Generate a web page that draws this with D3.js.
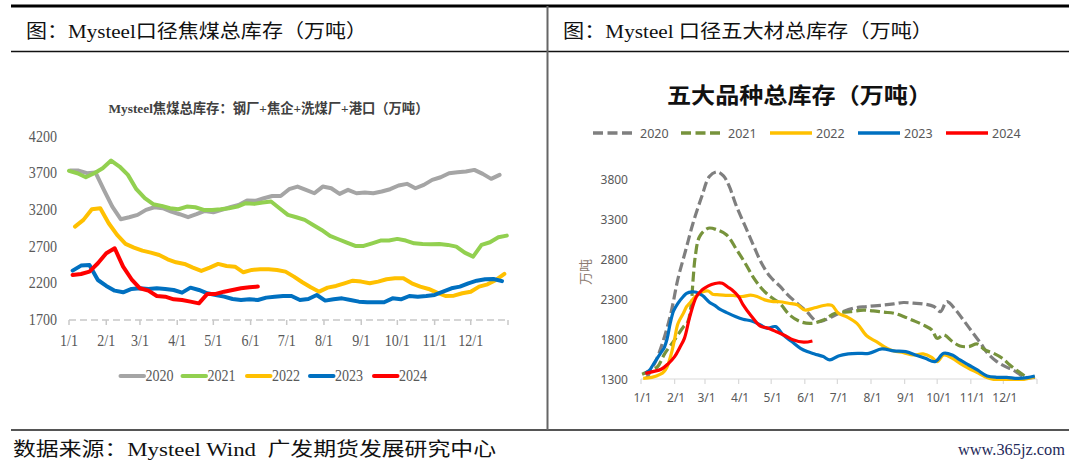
<!DOCTYPE html>
<html><head><meta charset="utf-8">
<script src="https://cdn.jsdelivr.net/npm/d3@7/dist/d3.min.js"></script>
<style>body{margin:0;background:#fff}svg{display:block}</style>
</head><body>
<svg id="c" width="1080" height="469"></svg>
<script>
// ---------- data ----------
const monthLabels = ["1/1","2/1","3/1","4/1","5/1","6/1","7/1","8/1","9/1","10/1","11/1","12/1"];
const monthStartDays = [0,31,59,90,120,151,181,212,243,273,304,334];
const years = ["2020","2021","2022","2023","2024"];

// left chart: coking coal total inventory (weekly values), first week day-of-year
const leftYTicks = [1700,2200,2700,3200,3700,4200];
const leftStartDay = [1,0,5,3,3];
const coal2020 = [3736,3736,3700,3710,3473,3245,3073,3100,3132,3200,3236,3223,3177,3141,3100,3141,3186,3168,3200,3236,3268,3327,3323,3359,3390,3390,3482,3518,3473,3427,3518,3495,3418,3473,3427,3436,3427,3450,3482,3532,3555,3495,3541,3609,3645,3700,3714,3723,3745,3691,3623,3677];
const coal2021 = [3732,3700,3645,3700,3768,3873,3791,3677,3482,3359,3277,3255,3223,3209,3245,3236,3200,3200,3209,3223,3245,3291,3282,3300,3314,3223,3132,3100,3064,2995,2927,2845,2800,2755,2709,2709,2745,2782,2782,2805,2782,2745,2736,2732,2736,2723,2700,2618,2564,2723,2759,2827,2850];
const coal2022 = [2973,3064,3209,3223,3018,2859,2736,2686,2645,2618,2586,2527,2486,2464,2414,2368,2414,2464,2436,2427,2350,2382,2391,2391,2382,2359,2291,2214,2145,2086,2141,2164,2200,2236,2223,2200,2223,2255,2268,2268,2200,2155,2123,2073,2027,2032,2064,2086,2155,2186,2245,2327];
const coal2023 = [2373,2441,2450,2245,2164,2100,2077,2123,2132,2123,2132,2123,2109,2073,2141,2109,2064,2041,2018,1986,1973,1982,1973,2005,2018,2027,2027,1973,1986,2041,1964,1982,1995,1973,1950,1941,1941,1941,1995,1982,2027,2018,2027,2041,2086,2132,2155,2200,2236,2255,2259,2230];
const coal2024 = [2314,2327,2359,2473,2609,2677,2427,2255,2132,2100,2027,2018,1982,1973,1950,1927,2055,2055,2086,2109,2132,2145,2155];
const leftSeries = [coal2020,coal2021,coal2022,coal2023,coal2024];

// right chart: five major steel products total inventory, [day-of-year, value]
const rightYTicks = [1300,1800,2300,2800,3300,3800];
const steel2020 = [[5,1308],[14,1537],[21,1800],[28,2150],[34,2550],[41,2900],[48,3250],[56,3580],[63,3830],[70,3890],[76,3840],[81,3720],[88,3460],[96,3210],[104,2960],[111,2750],[119,2580],[128,2460],[134,2370],[141,2280],[147,2210],[153,2140],[162,2020],[170,2040],[182,2120],[196,2185],[208,2205],[224,2225],[233,2239],[242,2256],[251,2248],[260,2239],[270,2206],[276,2143],[282,2268],[290,2164],[297,2039],[305,1893],[313,1747],[320,1613],[328,1517],[336,1454],[343,1413],[350,1350],[356,1317],[363,1321]];
const steel2021 = [[1,1360],[8,1400],[15,1450],[22,1620],[31,1790],[39,1950],[43,2010],[46,2200],[48,2540],[50,2830],[54,3080],[62,3185],[70,3165],[79,3100],[88,2920],[96,2748],[104,2561],[111,2435],[119,2331],[128,2246],[137,2100],[147,2016],[157,1996],[168,2037],[179,2121],[193,2141],[205,2162],[214,2151],[224,2135],[233,2122],[242,2081],[251,2031],[260,1976],[268,1914],[273,1809],[279,1851],[287,1768],[294,1713],[302,1705],[310,1738],[317,1663],[325,1621],[333,1559],[340,1475],[348,1392],[356,1317]];
const steel2022 = [[2,1308],[10,1320],[18,1360],[21,1390],[24,1450],[28,1620],[31,1800],[34,1990],[39,2120],[42,2204],[45,2250],[50,2329],[57,2391],[62,2400],[66,2360],[70,2355],[78,2345],[85,2344],[93,2331],[101,2348],[107,2331],[114,2289],[122,2268],[128,2266],[136,2247],[144,2227],[151,2162],[160,2190],[171,2225],[176,2220],[182,2121],[190,2075],[199,1996],[208,1840],[217,1766],[227,1683],[233,1651],[242,1630],[251,1600],[260,1613],[268,1571],[273,1517],[279,1600],[287,1559],[294,1496],[302,1434],[310,1379],[317,1329],[325,1296],[334,1296],[343,1296],[353,1296],[363,1329]];
const steel2023 = [[4,1371],[8,1412],[11,1475],[19,1642],[21,1680],[24,1800],[27,2000],[30,2150],[34,2246],[39,2331],[42,2371],[47,2390],[51,2385],[57,2340],[63,2260],[68,2220],[73,2170],[79,2130],[87,2081],[94,2047],[102,2026],[110,1976],[116,1934],[124,1955],[131,1851],[139,1768],[147,1684],[154,1640],[160,1613],[168,1580],[174,1538],[182,1588],[191,1613],[200,1621],[210,1621],[222,1676],[233,1651],[244,1642],[253,1600],[262,1559],[271,1517],[279,1621],[287,1600],[294,1538],[302,1475],[310,1413],[319,1338],[328,1321],[337,1321],[347,1308],[356,1317],[363,1338]];
const steel2024 = [[4,1371],[11,1392],[19,1425],[25,1490],[31,1580],[36,1700],[40,1808],[45,2080],[51,2329],[56,2410],[59,2440],[65,2480],[71,2500],[75,2496],[80,2450],[84,2412],[90,2329],[94,2230],[102,2081],[110,1960],[116,1940],[125,1890],[133,1840],[140,1790],[150,1760],[158,1775]];
const rightSeries = [steel2020,steel2021,steel2022,steel2023,steel2024];

// ---------- styles ----------
const leftColors = ["#a5a5a5","#92d050","#ffc000","#0070c0","#ff0000"];
const rightColors = ["#7f7f7f","#77933c","#ffc000","#0070c0","#ff0000"];
const rightDash = ["10,4","10,4",null,null,null];
const SERIF = "'Liberation Serif','Noto Sans CJK SC',serif";
const CJK = "'Noto Sans CJK SC','Liberation Serif',serif";
const SANS = "'Noto Sans','Noto Sans CJK SC',sans-serif";

const svg = d3.select("#c");
svg.append("rect").attr("width",1080).attr("height",469).attr("fill","#fff");

// frame lines
svg.append("line").attr("x1",11).attr("x2",1069).attr("y1",6).attr("y2",6).attr("stroke","#000").attr("stroke-width",3);
svg.append("line").attr("x1",11).attr("x2",1069).attr("y1",51.5).attr("y2",51.5).attr("stroke","#111").attr("stroke-width",1.5);
svg.append("line").attr("x1",11).attr("x2",1069).attr("y1",430).attr("y2",430).attr("stroke","#555").attr("stroke-width",2);
svg.append("line").attr("x1",547.5).attr("x2",547.5).attr("y1",6).attr("y2",430).attr("stroke","#666").attr("stroke-width",2);

// headers
function fitText(x,y,txt,len,size,family,opts={}){
  const t = svg.append("text").attr("x",x).attr("y",y).text(txt)
    .attr("font-family",family).attr("font-size",size).attr("fill",opts.fill||"#000")
    .attr("textLength",len).attr("lengthAdjust","spacingAndGlyphs");
  if(opts.weight) t.attr("font-weight",opts.weight);
  return t;
}
fitText(26,38,"图：Mysteel口径焦煤总库存（万吨）",341,19,SERIF,{fill:"#111"});
fitText(563,38,"图：Mysteel 口径五大材总库存（万吨）",370,19,SERIF,{fill:"#111"});
fitText(13,456,"数据来源：Mysteel Wind\u00a0\u00a0广发期货发展研究中心",483,19,SERIF,{fill:"#111"});
fitText(958,455,"www.365jz.com",107,16,SERIF,{fill:"#1f2a5a"});

// ---------- left chart ----------
const lx = d3.scaleLinear().domain([0,365]).range([69,508]);
const ly = d3.scaleLinear().domain([1700,4200]).range([320,136.5]);
const lg = svg.append("g");
fitText(108.5,113,"Mysteel焦煤总库存：钢厂+焦企+洗煤厂+港口（万吨）",320,13.5,SERIF,{fill:"#404040",weight:"bold"});

function condText(g,x,y,txt,size,anchor){
  return g.append("text").attr("transform",`translate(${x},${y}) scale(0.88,1)`)
    .attr("text-anchor",anchor).attr("font-family",SERIF).attr("font-size",size)
    .attr("fill","#595959").text(txt);
}
// axis
lg.append("line").attr("x1",lx(0)).attr("x2",lx(365)).attr("y1",ly(1700)).attr("y2",ly(1700))
  .attr("stroke","#c8c8c8").attr("stroke-width",1.5).attr("stroke-dasharray","7,4");
monthStartDays.concat([365]).forEach(d=>{
  lg.append("line").attr("x1",lx(d)).attr("x2",lx(d)).attr("y1",ly(1700)).attr("y2",ly(1700)+5)
    .attr("stroke","#c8c8c8").attr("stroke-width",1.5);
});
monthStartDays.forEach((d,i)=>condText(lg,lx(d),346,monthLabels[i],16,"middle"));
leftYTicks.forEach(v=>condText(lg,57,ly(v)+5,String(v),16,"end"));

const lline = d3.line().x(d=>lx(d[0])).y(d=>ly(d[1]));
leftSeries.forEach((vals,i)=>{
  const pts = vals.map((v,k)=>[leftStartDay[i]+7*k, v]);
  lg.append("path").attr("d",lline(pts)).attr("fill","none").attr("stroke",leftColors[i])
    .attr("stroke-width",4).attr("stroke-linejoin","round").attr("stroke-linecap","round");
});
// left legend
const leftLegX = [120.5,182.5,247,310,374];
years.forEach((y,i)=>{
  lg.append("line").attr("x1",leftLegX[i]).attr("x2",leftLegX[i]+23.5).attr("y1",376).attr("y2",376)
    .attr("stroke",leftColors[i]).attr("stroke-width",4).attr("stroke-linecap","round");
  condText(lg,leftLegX[i]+25,381,y,16,"start");
});

// ---------- right chart ----------
const rx = d3.scaleLinear().domain([0,365]).range([641,1037]);
const ry = d3.scaleLinear().domain([1300,3800]).range([379,179]);
const rg = svg.append("g");
fitText(667,103,"五大品种总库存（万吨）",265,22,CJK,{fill:"#111",weight:"bold"});

rg.append("line").attr("x1",rx(0)).attr("x2",rx(365)).attr("y1",ry(1300)).attr("y2",ry(1300))
  .attr("stroke","#d9d9d9").attr("stroke-width",1.2);
monthStartDays.concat([365]).forEach(d=>{
  rg.append("line").attr("x1",rx(d)).attr("x2",rx(d)).attr("y1",ry(1300)).attr("y2",ry(1300)+5)
    .attr("stroke","#d9d9d9").attr("stroke-width",1.2);
});
monthStartDays.forEach((d,i)=>{
  rg.append("text").attr("x",rx(d)+1.5).attr("y",402).attr("text-anchor","middle")
    .attr("font-family",SANS).attr("font-size",12).attr("fill","#595959").text(monthLabels[i]);
});
rightYTicks.forEach(v=>{
  rg.append("text").attr("x",628).attr("y",ry(v)+4.5).attr("text-anchor","end")
    .attr("font-family",SANS).attr("font-size",12).attr("fill","#595959").text(v);
});
rg.append("text").attr("transform","translate(590,272) rotate(-90)").attr("text-anchor","middle")
  .attr("font-family",CJK).attr("font-size",13).attr("fill","#8c7b70").text("万吨");

const rline = d3.line().x(d=>rx(d[0])).y(d=>ry(d[1])).curve(d3.curveCatmullRom.alpha(0.5));
rightSeries.forEach((pts,i)=>{
  const p = rg.append("path").attr("d",rline(pts)).attr("fill","none").attr("stroke",rightColors[i])
    .attr("stroke-width",3.2).attr("stroke-linejoin","round");
  if(rightDash[i]) p.attr("stroke-dasharray",rightDash[i]);
});
// right legend
const rightLegX = [593,681,770,858,946];
years.forEach((y,i)=>{
  const l = rg.append("line").attr("x1",rightLegX[i]).attr("x2",rightLegX[i]+(rightDash[i]?39:42))
    .attr("y1",133).attr("y2",133).attr("stroke",rightColors[i]).attr("stroke-width",3.5);
  if(rightDash[i]) l.attr("stroke-dasharray","10,4.5");
  rg.append("text").attr("x",rightLegX[i]+(rightDash[i]?47:46)).attr("y",137.5)
    .attr("font-family",SANS).attr("font-size",12.5).attr("fill","#595959").text(y);
});
</script>
</body></html>
